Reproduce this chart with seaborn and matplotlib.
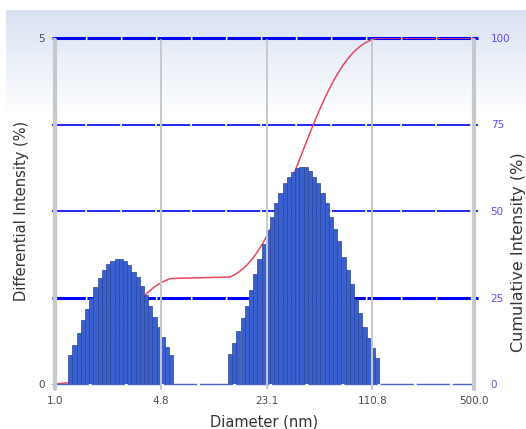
import numpy as np
import matplotlib.pyplot as plt
import seaborn as sns

# size distribution (bin centre diameters in nm, intensity in %)
diameters_1 = [1.257, 1.337, 1.423, 1.515, 1.612, 1.716, 1.826, 1.944, 2.069, 2.202,
               2.343, 2.494, 2.654, 2.825, 3.007, 3.200, 3.406, 3.625, 3.858, 4.106,
               4.370, 4.651, 4.950, 5.268, 5.607]
intensity_1 = [0.42, 0.56, 0.74, 0.92, 1.09, 1.24, 1.40, 1.53, 1.65, 1.73,
               1.78, 1.80, 1.80, 1.78, 1.72, 1.62, 1.54, 1.41, 1.28, 1.12,
               0.97, 0.82, 0.68, 0.54, 0.42]
diameters_2 = [13.41, 14.26, 15.18, 16.16, 17.20, 18.31, 19.48, 20.74, 22.07, 23.49,
               25.00, 26.61, 28.32, 30.14, 32.07, 34.14, 36.33, 38.67, 41.15, 43.80,
               46.61, 49.61, 52.80, 56.19, 59.81, 63.65, 67.74, 72.10, 76.73, 81.66,
               86.91, 92.50, 98.40, 104.7, 111.5, 118.6]
intensity_2 = [0.43, 0.59, 0.76, 0.95, 1.13, 1.36, 1.59, 1.80, 2.02, 2.23,
               2.42, 2.61, 2.76, 2.90, 2.99, 3.07, 3.12, 3.14, 3.13, 3.08,
               2.99, 2.90, 2.76, 2.62, 2.42, 2.24, 2.06, 1.84, 1.65, 1.44,
               1.23, 1.02, 0.83, 0.66, 0.52, 0.38]

x_ticks = [1.0, 4.8, 23.1, 110.8, 500.0]
x_tick_labels = ['1.0', '4.8', '23.1', '110.8', '500.0']
left_ticks = [0, 5]
right_ticks = [0, 25, 50, 75, 100]

BIN_RATIO = 1.0643  # log spacing of the size bins
BAR_COLOR = '#3a60cf'
BAR_EDGE = '#2a4597'
CUM_COLOR = '#e8475f'

sns.set_style('white')
plt.rcParams['font.family'] = ['DejaVu Sans']

diam = np.array(diameters_1 + diameters_2)
inten = np.array(intensity_1 + intensity_2)
cum = np.cumsum(inten) / inten.sum() * 100
x_cum = np.concatenate([[x_ticks[0]], diam, [x_ticks[-1]]])
y_cum = np.concatenate([[0], cum, [100]])

W, H = 526, 429
fig = plt.figure(figsize=(W / 100, H / 100), dpi=100)

# light blue header gradient behind everything
bg = fig.add_axes([6 / W, 0, 1 - 6 / W, (H - 10) / H], zorder=-5)
rows = np.arange(H - 10)[:, None]
t = np.clip(rows / 105.0, 0, 1)[..., None]
top = np.array([0.85, 0.885, 0.95])
img = top * (1 - t) + np.ones(3) * t
img = np.repeat(img, 4, axis=1)
bg.imshow(img, aspect='auto', extent=[0, 1, 0, 1])
bg.axis('off')

ax = fig.add_axes([55 / W, 1 - 384 / H, (474 - 55) / W, (384 - 38) / H])
ax2 = ax.twinx()
ax.set_zorder(ax2.get_zorder() + 1)
ax.patch.set_visible(False)
ax2.patch.set_visible(False)

ax.set_xscale('log')
ax.set_xlim(1.0, 500.0)
ax.set_ylim(0, 5)
ax2.set_ylim(0, 100)

# blue reference lines on the cumulative axis
for val, lw in zip(right_ticks[1:], [2.2, 1.2, 1.2, 2.2]):
    ax2.plot([-0.008, 1.01], [val, val], transform=ax2.get_yaxis_transform(),
             color='#0000ff', lw=lw, ls=(0, (24 / lw, 1.2 / lw)), clip_on=False, zorder=1)

# cumulative curve (sits below the bars)
sns.lineplot(x=x_cum, y=y_cum, ax=ax2, color=CUM_COLOR, lw=1.1, sort=False, zorder=3)

# differential bars
left = diam / np.sqrt(BIN_RATIO)
width = diam * np.sqrt(BIN_RATIO) - left
ax.bar(left, inten, width=width, align='edge', color=BAR_COLOR,
       edgecolor=BAR_EDGE, linewidth=0.5, zorder=2)

# baseline
ax.plot([0, 1], [0, 0], transform=ax.get_yaxis_transform(), color='#4a64c8',
        lw=1.0, ls=(0, (24, 2)), clip_on=False, zorder=4)

# grey vertical grid lines
for xv, lw in zip(x_ticks, [3.0, 1.4, 1.4, 1.4, 3.0]):
    ax.axvline(xv, ymin=-0.015, ymax=0.993, color='#c6c9cc', lw=lw, zorder=5, clip_on=False)

for a in (ax, ax2):
    for s in a.spines.values():
        s.set_visible(False)
    a.grid(False)

ax.set_xticks(x_ticks)
ax.set_xticklabels(x_tick_labels)
ax.minorticks_off()
ax.tick_params(axis='x', length=0, pad=9, labelsize=7.5, labelcolor='#4a4a4a')
ax.set_yticks(left_ticks)
ax.tick_params(axis='y', length=3, width=1, color='#b0b0b0', pad=4,
               labelsize=7.5, labelcolor='#4a4a4a')
ax2.set_yticks(right_ticks)
ax2.tick_params(axis='y', length=0, pad=12, labelsize=7.5, labelcolor='#5b4ff5')

ax.set_xlabel('Diameter (nm)', fontsize=10.5, color='#333333', labelpad=6)
ax.set_ylabel('Differential Intensity (%)', fontsize=10.5, color='#333333', labelpad=7)
fig.text(511 / W, 1 - 252 / H, 'Cumulative Intensity (%)', rotation=90,
         ha='left', va='center', fontsize=11.5, color='#333333')

fig.savefig('out.png', dpi=100)
